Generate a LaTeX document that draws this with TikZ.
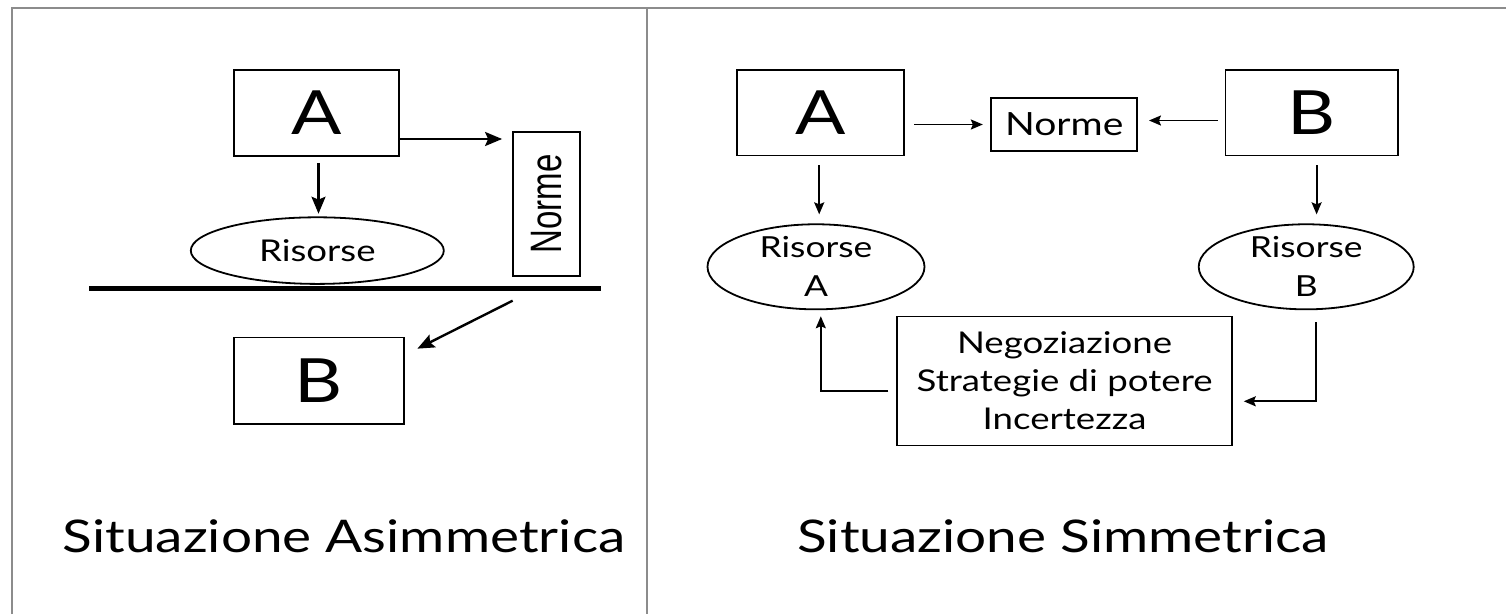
\documentclass[tikz,border=0pt]{standalone}
\usepackage{fontspec}
\setmainfont{Lato}
\newfontfamily\normefont{Liberation Sans}
\usetikzlibrary{shapes.geometric,arrows.meta}

\newcommand{\wide}[1]{\scalebox{1.22}[1]{#1}}

\tikzset{
  box/.style={draw, line width=1.8pt, inner sep=0pt},
  blob/.style={draw, ellipse, line width=1.8pt, inner sep=0pt},
  link/.style={-{Stealth[length=17pt,width=14pt,inset=3pt]}, line width=2.4pt},
  thin link/.style={-{Stealth[length=12pt,width=10pt,inset=2pt]}, line width=1.8pt},
  frame/.style={draw=black!45, line width=1.8pt},
  big/.style={font=\fontsize{61}{61}\selectfont},
  title/.style={font=\fontsize{45}{45}\selectfont, anchor=base}
}

\begin{document}
\begin{tikzpicture}[x=1pt, y=-1pt]
    \useasboundingbox (0,0) rectangle (1506,614);
    \draw[frame] (12,614) -- (12,8) -- (1506,8);
    \draw[frame] (647,8) -- (647,614);

    % left: asymmetric
    \node[box, big, minimum width=165pt, minimum height=86pt] (A) at (316.5,112.7) {\wide{A}};
    \node[box, rotate=90, minimum width=144pt, minimum height=67.4pt,
          font=\normefont\fontsize{44}{44}\selectfont] (Norme) at (546.3,204) {\scalebox{0.75}[1]{Norme}};
    \node[blob, minimum width=253pt, minimum height=66.6pt,
          font=\fontsize{30}{30}\selectfont] (Ris) at (317.3,250.6) {\wide{Risorse}};
    \node[box, big, minimum width=170pt, minimum height=86.5pt] (B) at (318.8,380.8) {\wide{B}};
    \draw[line width=5.5pt] (89,288.6) -- (601,288.6);
    \coordinate (cut) at (512.6,300.7);

    \draw[link, shorten >=9.6pt] ([yshift=-26.3pt]A.east) -- ([yshift=-26.3pt]A.east -| Norme.north);
    \draw[link, shorten <=6.3pt, shorten >=2.7pt] ([xshift=2pt]A.south) -- ([xshift=2pt]A.south |- Ris.north);
    \draw[link] (cut) -- ([xshift=12.7pt,yshift=-12pt]B.north east);

    \node[title] (asym) at (344,552) {\wide{Situazione Asimmetrica}};

    % right: symmetric
    \node[box, big, minimum width=166.7pt, minimum height=85.7pt] (A2) at (820.5,112.6) {\wide{A}};
    \node[box, minimum width=145.7pt, minimum height=53.2pt,
          font=\fontsize{32}{32}\selectfont] (Norme2) at (1064.2,124.5) {\wide{Norme}};
    \node[box, big, minimum width=172.6pt, minimum height=85.7pt] (B2) at (1311.8,112.6) {\wide{B}};
    \node[blob, minimum width=217pt, minimum height=81pt, align=center,
          font=\fontsize{29}{39}\selectfont] (RA) at (816,266.8) {\wide{Risorse}\\\wide{A}};
    \node[blob, minimum width=215pt, minimum height=81pt, align=center,
          font=\fontsize{29}{39}\selectfont] (RB) at (1306.2,266.8) {\wide{Risorse}\\\wide{B}};
    \node[box, minimum width=334.5pt, minimum height=129pt, align=center,
          font=\fontsize{30}{38}\selectfont] (Neg) at (1064.6,381)
          {\wide{Negoziazione}\\\wide{Strategie di potere}\\\wide{Incertezza}};

    \draw[thin link, shorten <=9.7pt, shorten >=7.6pt] (A2.east |- Norme2.west) -- (Norme2.west);
    \draw[thin link, shorten <=7pt, shorten >=11pt] ([yshift=4pt]B2.west |- Norme2.east) -- ([yshift=4pt]Norme2.east);
    \draw[thin link, shorten <=9pt, shorten >=9pt] ([xshift=-1.3pt]A2.south) -- ([xshift=-1.3pt]A2.south |- RA.north);
    \draw[thin link, shorten <=9pt, shorten >=9pt] ([xshift=4.8pt]B2.south) -- ([xshift=4.8pt]B2.south |- RB.north);
    \draw[thin link, shorten <=8pt, shorten >=6pt] ([yshift=-10pt]Neg.west) -| ([xshift=4.8pt]RA.south);
    \draw[thin link, shorten <=12pt, shorten >=11pt] ([xshift=9.4pt]RB.south) |- ([yshift=-20.3pt]Neg.east);

    \node[title] (sym) at (1063,552) {\wide{Situazione Simmetrica}};
\end{tikzpicture}
\end{document}
